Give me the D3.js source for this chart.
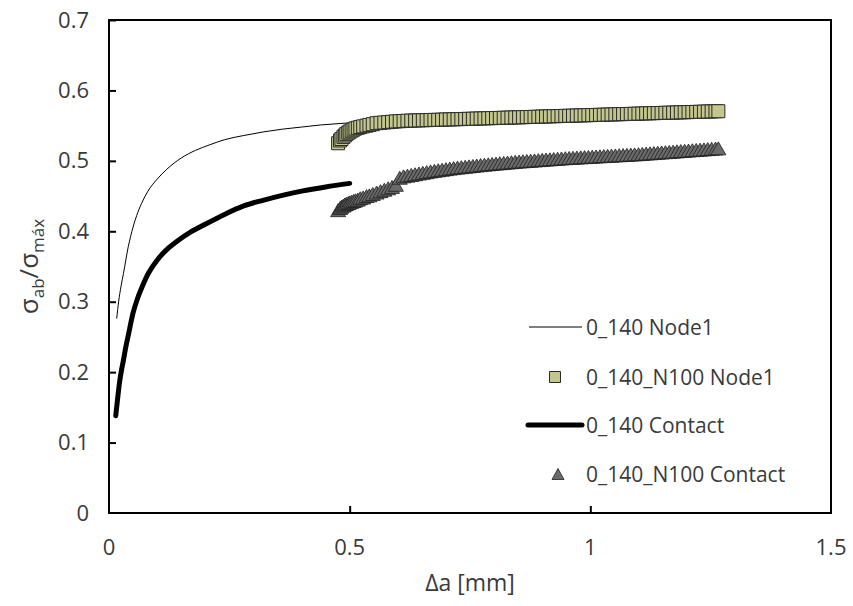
<!DOCTYPE html>
<html><head><meta charset="utf-8">
<script src="https://cdn.jsdelivr.net/npm/d3@7"></script>
<style>
html,body{margin:0;padding:0;background:#fff;}
svg{display:block;}
text{font-family:"Open Sans","Noto Sans",sans-serif;fill:#3a3a3a;}
</style></head>
<body>
<svg id="chart" width="853" height="606"></svg>
<script>
// ---------- data ----------
const xTicks = [0, 0.5, 1, 1.5];
const yTicks = [0, 0.1, 0.2, 0.3, 0.4, 0.5, 0.6, 0.7];
const seriesNames = ["0_140 Node1", "0_140_N100 Node1", "0_140 Contact", "0_140_N100 Contact"];

// 0_140 Node1 (thin line)
const node1Da = [0.016, 0.02, 0.025, 0.03, 0.04, 0.05, 0.06, 0.07, 0.08, 0.1, 0.12, 0.15, 0.18, 0.21, 0.24, 0.28, 0.32, 0.36, 0.40, 0.44, 0.48, 0.5];
const node1Val = [0.276, 0.300, 0.322, 0.340, 0.378, 0.406, 0.427, 0.443, 0.456, 0.474, 0.488, 0.504, 0.515, 0.523, 0.530, 0.536, 0.541, 0.545, 0.548, 0.551, 0.553, 0.554];

// 0_140 Contact (thick line)
const contactDa = [0.014, 0.018, 0.022, 0.026, 0.03, 0.035, 0.04, 0.05, 0.06, 0.07, 0.08, 0.1, 0.12, 0.14, 0.17, 0.2, 0.24, 0.28, 0.32, 0.36, 0.4, 0.45, 0.5];
const contactVal = [0.138, 0.163, 0.186, 0.203, 0.217, 0.236, 0.252, 0.284, 0.306, 0.323, 0.338, 0.359, 0.374, 0.385, 0.399, 0.410, 0.424, 0.436, 0.444, 0.451, 0.457, 0.463, 0.468];

// N100 series share the crack-extension values
const n100Da = [0.476, 0.480, 0.483, 0.487, 0.490, 0.493, 0.497, 0.500, 0.504, 0.508, 0.512, 0.517, 0.522, 0.528, 0.535, 0.541, 0.548, 0.556, 0.564, 0.572, 0.580, 0.588, 0.596, 0.604, 0.612, 0.620,
  0.628, 0.636, 0.644, 0.652, 0.660, 0.668, 0.676, 0.684, 0.692, 0.700, 0.708, 0.716, 0.724, 0.732, 0.740, 0.748, 0.756, 0.764, 0.772, 0.780,
  0.788, 0.796, 0.804, 0.812, 0.820, 0.828, 0.836, 0.844, 0.852, 0.860, 0.868, 0.876, 0.884, 0.892, 0.900, 0.908, 0.916, 0.924, 0.932, 0.940,
  0.948, 0.956, 0.964, 0.972, 0.980, 0.988, 0.996, 1.004, 1.012, 1.020, 1.028, 1.036, 1.044, 1.052, 1.060, 1.068, 1.076, 1.084, 1.092, 1.100,
  1.108, 1.116, 1.124, 1.132, 1.140, 1.148, 1.156, 1.164, 1.172, 1.180, 1.188, 1.196, 1.204, 1.212, 1.220, 1.228, 1.236, 1.244, 1.252, 1.260, 1.266];

// 0_140_N100 Node1 (squares)
const n100Node1Val = [0.525, 0.529, 0.531, 0.534, 0.536, 0.538, 0.540, 0.5415, 0.543, 0.5445, 0.546, 0.547, 0.548, 0.549, 0.550, 0.551, 0.552, 0.5535, 0.554, 0.5545, 0.555, 0.5555, 0.556, 0.5563, 0.5566, 0.557,
  0.5572, 0.5573, 0.5575, 0.5577, 0.5578, 0.5580, 0.5582, 0.5583, 0.5585, 0.5587, 0.5588, 0.5590, 0.5592, 0.5593, 0.5595, 0.5597, 0.5598, 0.5600, 0.5602, 0.5603,
  0.5605, 0.5607, 0.5608, 0.5610, 0.5612, 0.5613, 0.5615, 0.5617, 0.5618, 0.5620, 0.5622, 0.5623, 0.5625, 0.5627, 0.5629, 0.5630, 0.5632, 0.5634, 0.5635, 0.5637,
  0.5639, 0.5640, 0.5642, 0.5644, 0.5645, 0.5647, 0.5649, 0.5650, 0.5652, 0.5654, 0.5655, 0.5657, 0.5659, 0.5660, 0.5662, 0.5664, 0.5665, 0.5667, 0.5669, 0.5670,
  0.5672, 0.5674, 0.5675, 0.5677, 0.5679, 0.5680, 0.5682, 0.5684, 0.5685, 0.5687, 0.5689, 0.5690, 0.5692, 0.5694, 0.5695, 0.5697, 0.5699, 0.5700, 0.5702, 0.5704, 0.5705];

// 0_140_N100 Contact (triangles)
const n100ContactVal = [0.430, 0.433, 0.435, 0.4365, 0.438, 0.439, 0.440, 0.441, 0.442, 0.443, 0.444, 0.445, 0.447, 0.448, 0.450, 0.451, 0.453, 0.455, 0.457, 0.459, 0.461, 0.463, 0.466, 0.476, 0.478, 0.479,
  0.4800, 0.4810, 0.4820, 0.4830, 0.4840, 0.4850, 0.4858, 0.4866, 0.4874, 0.4882, 0.4890, 0.4897, 0.4904, 0.4910, 0.4916, 0.4922, 0.4928, 0.4934, 0.4940, 0.4946,
  0.4951, 0.4956, 0.4961, 0.4966, 0.4971, 0.4976, 0.4981, 0.4986, 0.4990, 0.4994, 0.4998, 0.5002, 0.5006, 0.5010, 0.5014, 0.5018, 0.5022, 0.5026, 0.5030, 0.5034,
  0.5038, 0.5041, 0.5044, 0.5047, 0.5050, 0.5053, 0.5056, 0.5059, 0.5062, 0.5065, 0.5068, 0.5071, 0.5074, 0.5077, 0.5080, 0.5083, 0.5086, 0.5089, 0.5092, 0.5095,
  0.5099, 0.5103, 0.5107, 0.5111, 0.5115, 0.5119, 0.5123, 0.5127, 0.5131, 0.5135, 0.5139, 0.5143, 0.5147, 0.5151, 0.5155, 0.5159, 0.5163, 0.5167, 0.5171, 0.5175, 0.5178];

// ---------- layout ----------
const svg = d3.select("#chart");
const L = 109, R = 831, T = 20, B = 513;
const x = d3.scaleLinear().domain([0, 1.5]).range([L, R]);
const y = d3.scaleLinear().domain([0, 0.7]).range([B, T]);

const sqFill = "#c3c78e", sqStroke = "#2a2a2a";
const triFill = "#6a6a6a", triStroke = "#1e1e1e";

// tick labels
svg.append("g").selectAll("text").data(yTicks).join("text")
  .attr("x", 89).attr("y", d => y(d) + 7.5)
  .attr("text-anchor", "end").attr("font-size", 22)
  .text(d => d3.format("")(d));
svg.append("g").selectAll("text").data(xTicks).join("text")
  .attr("x", d => x(d)).attr("y", 555)
  .attr("text-anchor", "middle").attr("font-size", 22)
  .text(d => d3.format("")(d));

// series
const line = d3.line().x(d => x(d[0])).y(d => y(d[1])).curve(d3.curveMonotoneX);
svg.append("path").datum(d3.zip(node1Da, node1Val))
  .attr("d", line).attr("fill", "none").attr("stroke", "#000").attr("stroke-width", 1);

const tri = (w, h) => `M0,${-h/2}L${w/2},${h/2}L${-w/2},${h/2}Z`;
const sq = s => `M${-s/2},${-s/2}h${s}v${s}h${-s}Z`;

svg.append("g").selectAll("path").data(d3.zip(n100Da, n100Node1Val)).join("path")
  .attr("transform", d => `translate(${x(d[0])},${y(d[1])})`)
  .attr("d", sq(13)).attr("fill", sqFill).attr("stroke", sqStroke).attr("stroke-width", 1);

svg.append("path").datum(d3.zip(contactDa, contactVal))
  .attr("d", line).attr("fill", "none").attr("stroke", "#000").attr("stroke-width", 5)
  .attr("stroke-linecap", "round");

svg.append("g").selectAll("path").data(d3.zip(n100Da, n100ContactVal)).join("path")
  .attr("transform", d => `translate(${x(d[0])},${y(d[1])})`)
  .attr("d", tri(15, 13)).attr("fill", triFill).attr("stroke", triStroke).attr("stroke-width", 0.8);

// frame + inner ticks
svg.append("rect").attr("x", L).attr("y", T).attr("width", R - L).attr("height", B - T)
  .attr("fill", "none").attr("stroke", "#000").attr("stroke-width", 2);
const yAxis = d3.axisRight(y).tickValues(yTicks.slice(1)).tickSize(7).tickFormat("");
svg.append("g").attr("transform", `translate(${L},0)`).call(yAxis)
  .call(g => g.select(".domain").remove())
  .call(g => g.selectAll("line").attr("stroke", "#000").attr("stroke-width", 2));
const xAxis = d3.axisTop(x).tickValues([0.5, 1]).tickSize(7).tickFormat("");
svg.append("g").attr("transform", `translate(0,${B})`).call(xAxis)
  .call(g => g.select(".domain").remove())
  .call(g => g.selectAll("line").attr("stroke", "#000").attr("stroke-width", 2));

// axis titles
svg.append("text").attr("x", (L + R) / 2).attr("y", 591).attr("text-anchor", "middle")
  .attr("font-size", 23).text("Δa [mm]");
const yt = svg.append("text").attr("transform", `translate(38,${(T + B) / 2}) rotate(-90)`)
  .attr("text-anchor", "middle").attr("font-size", 26);
yt.append("tspan").text("σ");
yt.append("tspan").attr("font-size", 17).attr("dy", 6).text("ab");
yt.append("tspan").attr("dy", -6).text("/σ");
yt.append("tspan").attr("font-size", 17).attr("dy", 6).text("máx");

// legend
const lg = svg.append("g");
const rows = [327, 377, 425, 474];
lg.append("line").attr("x1", 529).attr("x2", 582).attr("y1", rows[0]).attr("y2", rows[0])
  .attr("stroke", "#000").attr("stroke-width", 1);
lg.append("path").attr("transform", `translate(555,${rows[1]})`).attr("d", sq(11))
  .attr("fill", sqFill).attr("stroke", sqStroke).attr("stroke-width", 1);
lg.append("line").attr("x1", 528).attr("x2", 582).attr("y1", rows[2]).attr("y2", rows[2])
  .attr("stroke", "#000").attr("stroke-width", 5).attr("stroke-linecap", "round");
lg.append("path").attr("transform", `translate(558,${rows[3]})`).attr("d", tri(12, 11))
  .attr("fill", triFill).attr("stroke", triStroke).attr("stroke-width", 0.8);
lg.selectAll("text").data(seriesNames).join("text")
  .attr("x", 586).attr("y", (d, i) => rows[i] + 7.5).attr("font-size", 21)
  .text(d => d);
</script>
</body></html>
